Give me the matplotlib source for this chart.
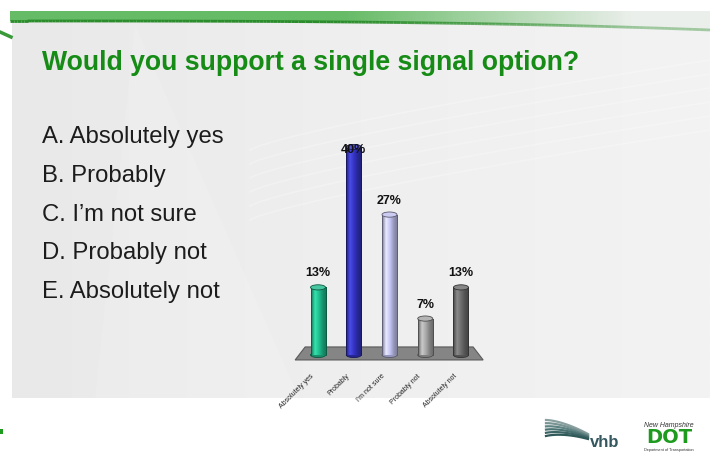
"""
Slide chart: would you support a single signal option
"""

import numpy as np
import matplotlib.pyplot as plt
from matplotlib.patches import Ellipse, Polygon, Rectangle
from matplotlib.colors import LinearSegmentedColormap, to_rgb

title = "Would you support a single signal option?"
options = [
    "A. Absolutely yes",
    "B. Probably",
    "C. I\u2019m not sure",
    "D. Probably not",
    "E. Absolutely not",
]
categories = ["Absolutely yes", "Probably", "I'm not sure", "Probably not", "Absolutely not"]
percent = [13, 40, 27, 7, 13]
bar_colors = ["#1fbf8f", "#3333c4", "#c6c6f6", "#a8a8a8", "#6e6e6e"]

plt.rcParams["font.family"] = ["Liberation Sans", "DejaVu Sans"]

fig = plt.figure(figsize=(7.1, 4.58), dpi=100)
fig.patch.set_facecolor("white")

# slide background, drawn in pixel coordinates
bg = fig.add_axes([0, 0, 1, 1])
bg.set_xlim(0, 710)
bg.set_ylim(458, 0)
bg.axis("off")

# gray panel with a soft horizontal gradient
panel_cmap = LinearSegmentedColormap.from_list("panel", ["#e9e9e9", "#efefef", "#f3f3f3"])
bg.imshow(np.linspace(0, 1, 256)[None, :], cmap=panel_cmap, extent=[12, 710, 398, 11],
          aspect="auto", zorder=0)
# faint shapes in the backdrop
bg.add_patch(Polygon([[95, 400], [135, 25], [300, 400]], closed=True,
                     facecolor="white", alpha=0.12, edgecolor="none", zorder=0.5))
for k in range(6):
    xs = np.linspace(250, 710, 100)
    ys = 150 + k * 14 - 90 * ((xs - 250) / 460) ** 0.8
    bg.plot(xs, ys, color="white", lw=1.2, alpha=0.25, zorder=0.6)

# green band at the top
xs = np.linspace(10, 710, 200)
band_bottom = 21 + 9 * ((xs - 10) / 700) ** 3
band_verts = np.vstack([np.column_stack([xs, band_bottom]), [[710, 11], [10, 11]]])
band = Polygon(band_verts, closed=True, facecolor="none", edgecolor="none")
bg.add_patch(band)
band_rgba = np.zeros((1, 256, 4))
band_rgba[..., :3] = to_rgb("#66bb66")
band_rgba[..., 3] = np.clip(2.1 - np.linspace(0, 1, 256) * 2.3, 0.05, 1)
band_img = bg.imshow(band_rgba, extent=[10, 710, 31, 11], aspect="auto", zorder=1)
band_img.set_clip_path(band)
for i in range(len(xs) - 1):
    a = max(0.4, 1 - max(i - 90, 0) / 150)
    bg.plot(xs[i:i + 2], band_bottom[i:i + 2], color="#2a8c2a", lw=2, alpha=a,
            solid_capstyle="butt", zorder=2)
bg.plot([0, 11], [32, 37], color="#3a9a3a", lw=2.5, zorder=2)
bg.add_patch(Rectangle((0, 429), 3, 5, facecolor="#1e9a1e", edgecolor="none"))

# title and answer list
bg.text(42, 70, title, fontsize=19.2, fontweight="bold", color="#168c16", va="baseline")
for i, opt in enumerate(options):
    bg.text(42, 143 + i * 38.8, opt, fontsize=17.2, color="#1c1c1c", va="baseline")

# logos
for k in range(6):
    xx = np.linspace(546, 588, 40)
    yy = 420 + k * 3.2 + 14 * ((xx - 546) / 42) ** 1.6 - k * 2.2 * (xx - 546) / 42
    bg.plot(xx, yy, color=["#8aa0a0", "#7a9494", "#5f8282", "#4b7272", "#3c6464", "#2f5858"][k],
            lw=1.6, zorder=2)
bg.text(590, 447, "vhb", fontsize=12, fontweight="bold", color="#35575f", va="baseline")
bg.text(669, 427, "New Hampshire", fontsize=5, style="italic", color="#333333", ha="center")
bg.text(669, 443, "DOT", fontsize=14, fontweight="bold", color="#1e9a1e", ha="center",
        va="baseline", family="DejaVu Sans")
bg.text(669, 451, "Department of Transportation", fontsize=2.8, color="#333333", ha="center")

# bar chart
ax = fig.add_axes([293 / 710, (458 - 361.2) / 458, 193 / 710, 235 / 458])
ax.patch.set_alpha(0)
ax.axis("off")

x = np.arange(len(categories))
width = 0.42
cap_h = 1.0

floor = Polygon([[x[0] - 0.64, -0.96], [x[-1] + 0.62, -0.96],
                 [x[-1] + 0.34, 1.54], [x[0] - 0.36, 1.54]], closed=True,
                facecolor="#858585", edgecolor="#5a5a5a", lw=0.8, zorder=1)
ax.add_patch(floor)

bars = ax.bar(x, percent, width=width, color=bar_colors, edgecolor="none", zorder=3)
for bar, c, v, cx in zip(bars, bar_colors, percent, x):
    base = np.array(to_rgb(c))
    light = np.minimum(base * 1.08 + 0.08, 1)
    dark = base * 0.6
    cmap = LinearSegmentedColormap.from_list("cyl", [dark, light, base, base * 0.75, dark])
    img = ax.imshow(np.linspace(0, 1, 64)[None, :], cmap=cmap,
                    extent=[bar.get_x(), bar.get_x() + width, 0, v],
                    aspect="auto", zorder=3)
    img.set_clip_path(bar)
    edge = base * 0.45
    ax.plot([bar.get_x()] * 2, [0, v], color=edge, lw=0.6, zorder=3.5)
    ax.plot([bar.get_x() + width] * 2, [0, v], color=edge, lw=0.6, zorder=3.5)
    ax.add_patch(Ellipse((cx, 0), width, cap_h, facecolor=base * 0.75,
                         edgecolor=edge, lw=0.6, zorder=2.9))
    ax.add_patch(Ellipse((cx, v), width, cap_h, facecolor=base * 0.8 + 0.2 * 0.9,
                         edgecolor=edge, lw=0.6, zorder=4))
    ax.text(cx, min(v + 2.1, 38.9), f"{v}%", ha="center", va="baseline",
            fontsize=9, fontweight="bold", color="#111111", zorder=5)

for cx, cat in zip(x, categories):
    ax.text(cx - 0.22, -3.4, cat, rotation=45, ha="right", va="top",
            rotation_mode="anchor", fontsize=5, color="#222222")

ax.set_xlim(-0.7, 4.7)
ax.set_ylim(-1.2, 44)

plt.savefig("out.png", dpi=100)
plt.close()
